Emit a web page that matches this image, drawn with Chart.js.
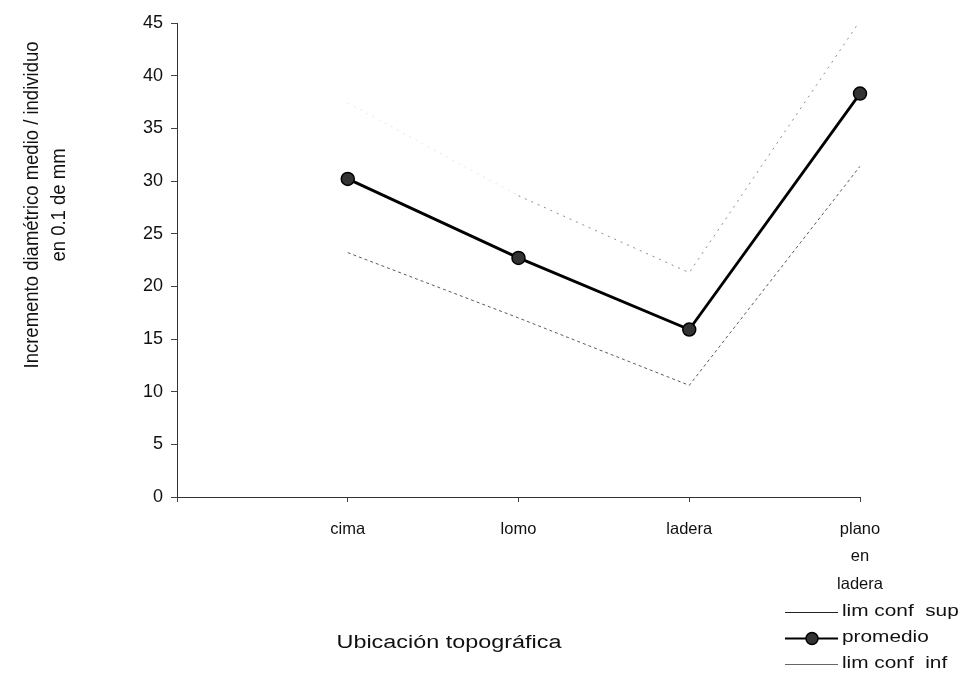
<!DOCTYPE html>
<html>
<head>
<meta charset="utf-8">
<script src="https://cdn.jsdelivr.net/npm/chart.js@4/dist/chart.umd.min.js"></script>
<style>
  body { margin: 0; background: #fff; }
  canvas { display: block; }
</style>
</head>
<body>
<canvas id="chart" width="962" height="676"></canvas>
<script>
// first slot is empty in the original, the axis starts one step left of "cima"
const categories = ["", "cima", "lomo", "ladera", ["plano", "en", "ladera"]];
const promedio = [null, 30.2, 22.7, 15.9, 38.3];
const limConfSup = [null, 37.4, 28.6, 21.3, 45.2];
const limConfInf = [null, 23.2, 17.0, 10.6, 31.4];
const yTicks = [0, 5, 10, 15, 20, 25, 30, 35, 40, 45];

const yTitle = ["Incremento diamétrico medio / individuo", "en 0.1 de mm"];
const xTitle = "Ubicación topográfica";

const FONT = "'Liberation Sans', Arial, sans-serif";
// the scanned figure is stretched sideways, text looks wider than tall
const STRETCH = 1.3;

// axis titles and legend are placed by hand, like in the scanned figure
const extrasPlugin = {
  id: "extras",
  afterDraw(chart) {
    const ctx = chart.ctx;
    ctx.save();
    ctx.fillStyle = "#111";
    ctx.textAlign = "center";
    ctx.textBaseline = "middle";

    // y title, rotated
    ctx.save();
    ctx.font = "18.5px " + FONT;
    ctx.translate(32, 205);
    ctx.scale(1.12, 1);
    ctx.rotate(-Math.PI / 2);
    ctx.fillText(yTitle[0], 0, 0);
    ctx.fillText(yTitle[1], 0, 24.5);
    ctx.restore();

    // x title
    ctx.save();
    ctx.font = "18px " + FONT;
    ctx.translate(449, 643);
    ctx.scale(STRETCH, 1);
    ctx.fillText(xTitle, 0, 0);
    ctx.restore();

    // legend
    const ds = chart.data.datasets;
    const rows = [
      { d: ds[0], y: 612 },
      { d: ds[1], y: 638 },
      { d: ds[2], y: 664 },
    ];
    rows.forEach(r => {
      const yy = Math.round(r.y) + 0.5;
      ctx.beginPath();
      ctx.strokeStyle = r.d.legendColor || r.d.borderColor;
      ctx.lineWidth = r.d.pointRadius ? 2 : 1;
      ctx.moveTo(785, yy);
      ctx.lineTo(838, yy);
      ctx.stroke();
      if (r.d.pointRadius) {
        ctx.beginPath();
        ctx.fillStyle = r.d.pointBackgroundColor;
        ctx.arc(812, yy, 6, 0, Math.PI * 2);
        ctx.fill();
        ctx.lineWidth = 1.5;
        ctx.strokeStyle = "#000";
        ctx.stroke();
      }
      ctx.save();
      ctx.fillStyle = "#111";
      ctx.font = "16px " + FONT;
      ctx.textAlign = "left";
      ctx.translate(842, r.y);
      ctx.scale(STRETCH, 1);
      ctx.fillText(r.d.label, 0, 0);
      ctx.restore();
    });
    ctx.restore();
  },
};

new Chart(document.getElementById("chart"), {
  type: "line",
  data: {
    labels: categories,
    datasets: [
      {
        label: "lim conf  sup",
        data: limConfSup,
        borderColor: "#8c8c8c",
        legendColor: "#222",
        borderWidth: 1,
        borderDash: [2, 5],
        pointRadius: 0,
        segment: {
          borderColor: c => (c.p0DataIndex === 1 ? "#e6e6e6" : undefined),
        },
      },
      {
        label: "promedio",
        data: promedio,
        borderColor: "#000",
        borderWidth: 2.8,
        pointRadius: 6.5,
        pointBackgroundColor: "#333",
        pointBorderColor: "#000",
        pointBorderWidth: 1.5,
      },
      {
        label: "lim conf  inf",
        data: limConfInf,
        borderColor: "#5a5a5a",
        legendColor: "#666",
        borderWidth: 1,
        borderDash: [3, 3],
        pointRadius: 0,
      },
    ],
  },
  options: {
    responsive: false,
    animation: false,
    layout: { padding: { top: 23, right: 102, left: 0, bottom: 0 } },
    plugins: {
      legend: { display: false },
      tooltip: { enabled: false },
    },
    scales: {
      x: {
        offset: false,
        afterFit: s => { s.height = 179; },
        grid: {
          drawOnChartArea: false,
          tickLength: 5,
          color: "#444",
        },
        border: { color: "#333", width: 1 },
        ticks: {
          color: "#111",
          padding: 14,
          maxRotation: 0,
          autoSkip: false,
          font: { family: FONT, size: 16.5, lineHeight: 1.65 },
        },
      },
      y: {
        min: 0,
        max: 45,
        afterFit: s => { s.width = 177; },
        afterBuildTicks: s => { s.ticks = yTicks.map(v => ({ value: v })); },
        grid: {
          drawOnChartArea: false,
          tickLength: 6,
          color: "#444",
        },
        border: { color: "#333", width: 1 },
        ticks: {
          color: "#111",
          padding: 8,
          font: { family: FONT, size: 18 },
        },
      },
    },
  },
  plugins: [extrasPlugin],
});
</script>
</body>
</html>
